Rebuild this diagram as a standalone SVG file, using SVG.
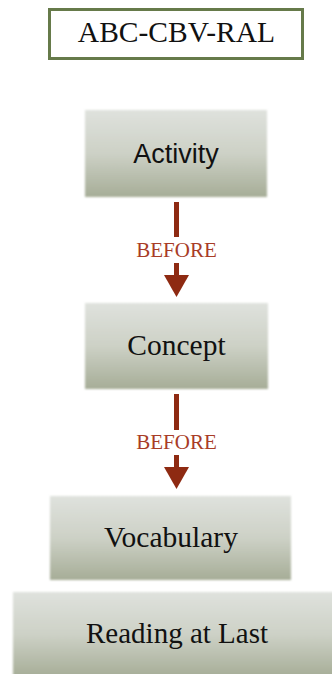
<svg xmlns="http://www.w3.org/2000/svg" width="332" height="674" viewBox="0 0 332 674">
<defs>
<linearGradient id="g" x1="0" y1="0" x2="0" y2="1">
<stop offset="0" stop-color="#dfe2dd"/>
<stop offset="0.5" stop-color="#cdd1c6"/>
<stop offset="1" stop-color="#a6ad97"/>
</linearGradient>
<filter id="soft" x="-5%" y="-5%" width="110%" height="110%">
<feGaussianBlur stdDeviation="1"/>
</filter>
<style>
.box{fill:url(#g);filter:url(#soft)}
.serif{font-family:"Liberation Serif","DejaVu Serif",serif;fill:#111;text-anchor:middle}
.sans{font-family:"Liberation Sans","DejaVu Sans",sans-serif;fill:#111;text-anchor:middle}
.lbl{font-family:"Liberation Serif",serif;fill:#a83c26;font-size:21px;text-anchor:middle}
.arr{fill:#8e2a12}
</style>
</defs>
<rect width="332" height="674" fill="#fff"/>
<g id="title">
<rect x="49.5" y="9.5" width="253" height="49" fill="#fff" stroke="#667a4a" stroke-width="3"/>
<text class="serif" x="176.5" y="42" font-size="29.5">ABC-CBV-RAL</text>
</g>
<g id="activity">
<rect class="box" x="85" y="110" width="182" height="87"/>
<text class="sans" x="176" y="163" font-size="27">Activity</text>
</g>
<g id="concept">
<rect class="box" x="85" y="303" width="183" height="86"/>
<text class="serif" x="176.5" y="355" font-size="29.5">Concept</text>
</g>
<g id="vocabulary">
<rect class="box" x="50" y="496" width="241" height="84"/>
<text class="serif" x="171" y="547" font-size="29.5">Vocabulary</text>
</g>
<g id="reading">
<rect class="box" x="13" y="592" width="322" height="85"/>
<text class="serif" x="177" y="643" font-size="29">Reading at Last</text>
</g>
<g id="connectors">
<rect class="arr" x="174" y="202" width="5" height="35"/>
<text class="lbl" x="176.5" y="257">BEFORE</text>
<rect class="arr" x="174" y="263" width="5" height="13"/>
<polygon class="arr" points="164,275 189,275 176.5,297"/>
<rect class="arr" x="174" y="394" width="5" height="36"/>
<text class="lbl" x="176.5" y="449">BEFORE</text>
<rect class="arr" x="174" y="455" width="5" height="13"/>
<polygon class="arr" points="164,467 189,467 176.5,489"/>
</g>
</svg>
